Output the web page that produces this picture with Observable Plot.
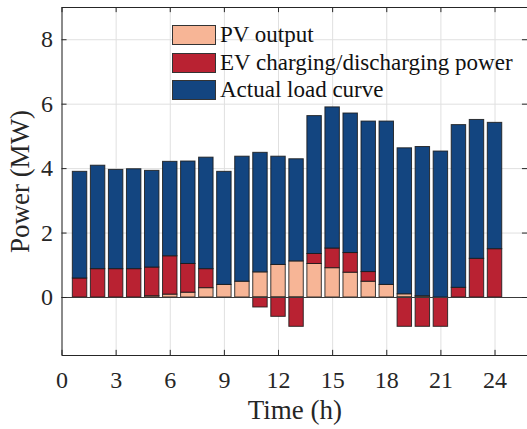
<!DOCTYPE html>
<html><head><meta charset="utf-8">
<script src="https://cdn.jsdelivr.net/npm/d3@7"></script>
<script src="https://cdn.jsdelivr.net/npm/@observablehq/plot@0.6"></script>
<style>
body{margin:0;background:#fff;}
#wrap{position:relative;width:527px;height:429px;font-family:"Liberation Serif",serif;color:#262626;}
#wrap svg text{font-family:"Liberation Serif",serif;}
.sw{position:absolute;left:172px;width:44px;height:20px;box-sizing:border-box;border:1px solid #333;}
.lt{position:absolute;left:220px;height:20px;line-height:20px;font-size:23px;white-space:nowrap;color:#111;}
</style>
</head><body>
<div id="wrap"></div>
<script>
const hours = [1,2,3,4,5,6,7,8,9,10,11,12,13,14,15,16,17,18,19,20,21,22,23,24];
const pvOutput = [0,0,0,0,0.04,0.09,0.15,0.29,0.39,0.49,0.78,1.01,1.12,1.04,0.91,0.77,0.49,0.39,0.10,0.04,0,0,0,0];
const evPower = [0.59,0.88,0.88,0.88,0.89,1.19,0.89,0.59,0,0,-0.31,-0.60,-0.91,0.31,0.61,0.61,0.30,0,-0.91,-0.91,-0.91,0.30,1.20,1.50];
const actualLoad = [3.31,3.21,3.08,3.10,3.00,2.93,3.18,3.46,3.51,3.88,3.71,3.36,3.17,4.28,4.38,4.33,4.67,5.07,4.53,4.63,4.53,5.05,4.31,3.92];
const seriesNames = ["PV output","EV charging/discharging power","Actual load curve"];
const seriesColors = ["#f7b596","#b92232","#134580"];
const xTicks = [0,3,6,9,12,15,18,21,24];
const yTicks = [0,2,4,6,8];

const rows = [];
hours.forEach((h,i)=>{
  [pvOutput[i], evPower[i], actualLoad[i]].forEach((v,k)=>{
    if (v !== 0) rows.push({hour:h, series:seriesNames[k], value:v});
  });
});

const FF = "Liberation Serif";
const bw = 0.4;
const chart = Plot.plot({
  width: 527, height: 429,
  marginLeft: 61.5, marginRight: 0, marginTop: 7, marginBottom: 74,
  x: {domain: [0, 25.8]},
  y: {domain: [-1.8, 9]},
  color: {domain: seriesNames, range: seriesColors},
  style: {fontFamily: FF, fontSize: "24px", color: "#262626", background: "white"},
  marks: [
    Plot.gridX(xTicks, {stroke: "#e0e0e0", strokeOpacity: 1}),
    Plot.gridY(yTicks, {stroke: "#e0e0e0", strokeOpacity: 1}),
    Plot.rectY(rows, {x1: d => d.hour - bw, x2: d => d.hour + bw, y: "value", fill: "series", stroke: "#1a1a1a", strokeWidth: 1, strokeOpacity: 0.85}),
    Plot.ruleY([0], {stroke: "#3a3a3a", strokeWidth: 1}),
    Plot.ruleX(xTicks, {x: d => d, y1: -1.8, y2: -1.8 + 0.16, stroke: "#262626"}),
    Plot.ruleX(xTicks, {x: d => d, y1: 9, y2: 9 - 0.16, stroke: "#262626"}),
    Plot.ruleY(yTicks, {y: d => d, x1: 0, x2: 0.28, stroke: "#262626"}),
    Plot.ruleY(yTicks, {y: d => d, x1: 25.8, x2: 25.8 - 0.28, stroke: "#262626"}),
    Plot.frame({stroke: "#262626", strokeWidth: 1}),
    Plot.axisX(xTicks, {tickSize: 0, tickPadding: 15, label: null, fontSize: 24, fontFamily: FF}),
    Plot.axisY(yTicks, {tickSize: 0, tickPadding: 9, label: null, fontSize: 24, fontFamily: FF}),
    Plot.text(["Time (h)"], {frameAnchor: "bottom", lineAnchor: "middle", textAnchor: "middle", dy: 55, fontSize: 27, fontFamily: FF, fill: "#262626"}),
    Plot.text(["Power (MW)"], {frameAnchor: "left", lineAnchor: "middle", textAnchor: "middle", dx: -42, rotate: -90, fontSize: 27, fontFamily: FF, fill: "#262626"})
  ]
});
const wrap = document.getElementById("wrap");
wrap.appendChild(chart);
const tops = [25, 52.5, 80];
seriesNames.forEach((n,i)=>{
  const s = document.createElement("div");
  s.className = "sw"; s.style.top = tops[i] + "px"; s.style.background = seriesColors[i];
  wrap.appendChild(s);
  const t = document.createElement("div");
  t.className = "lt"; t.style.top = tops[i] + "px"; t.textContent = n;
  wrap.appendChild(t);
});
</script>
</body></html>
